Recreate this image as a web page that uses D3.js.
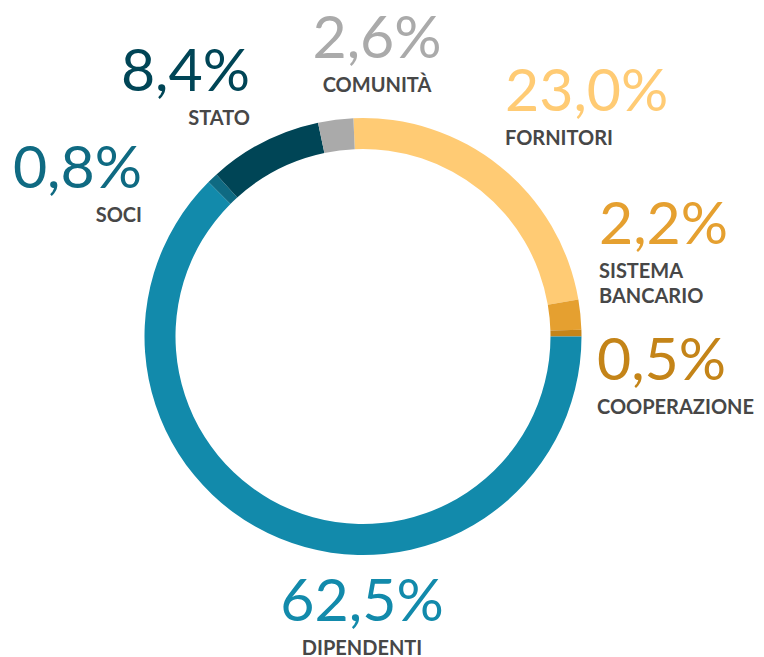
<!DOCTYPE html>
<html>
<head>
<meta charset="utf-8">
<script src="https://cdn.jsdelivr.net/npm/d3@7"></script>
<style>
  html, body { margin: 0; padding: 0; background: #fff; }
  svg { display: block; }
  .pct { font-family: "Lato", "Open Sans", sans-serif; font-weight: 400; }
  .lbl { font-family: "Lato", "Open Sans", sans-serif; font-weight: 700; fill: #474747; }
</style>
</head>
<body>
<svg id="chart"></svg>
<script>
    // values in clockwise order, starting from FORNITORI
    var categories = ["FORNITORI", "SISTEMA BANCARIO", "COOPERAZIONE", "DIPENDENTI", "SOCI", "STATO", "COMUNITÀ"];
    var values = [23.0, 2.2, 0.5, 62.5, 0.8, 8.4, 2.6];
    var valueLabels = ["23,0%", "2,2%", "0,5%", "62,5%", "0,8%", "8,4%", "2,6%"];
    var colors = ["#ffcb74", "#e5a030", "#c48418", "#128aab", "#0f6a82", "#004556", "#aaaaaa"];

    // label placement (anchor x, percent baseline y, alignment)
    var labelLayout = [
        {x: 505, y: 111, anchor: "start"},
        {x: 599, y: 244, anchor: "start"},
        {x: 597, y: 380, anchor: "start"},
        {x: 362, y: 621, anchor: "middle"},
        {x: 142, y: 188, anchor: "end"},
        {x: 250, y: 91, anchor: "end"},
        {x: 377, y: 58, anchor: "middle"}
    ];

    var width = 764, height = 657;
    var cx = 363, cy = 336.5;
    var outerR = 218.5, innerR = 187.5;

    var svg = d3.select('#chart').attr('width', width).attr('height', height);

    // DIPENDENTI begins at 3 o'clock
    var before = d3.sum(values.slice(0, 3)) / d3.sum(values);
    var start = Math.PI / 2 - before * 2 * Math.PI;

    var pie = d3.pie().sort(null).value(function(d) { return d; })
        .startAngle(start).endAngle(start + 2 * Math.PI);
    var arc = d3.arc().innerRadius(innerR).outerRadius(outerR);

    var g = svg.append('g').attr('transform', 'translate(' + cx + ',' + cy + ')');
    g.selectAll('path')
        .data(pie(values))
        .enter().append('path')
        .attr('d', arc)
        .attr('fill', function(d, i) { return colors[i]; });

    var labels = svg.selectAll('g.label')
        .data(categories)
        .enter().append('g')
        .attr('class', 'label');

    labels.append('text')
        .attr('class', 'pct')
        .attr('x', function(d, i) { return labelLayout[i].x; })
        .attr('y', function(d, i) { return labelLayout[i].y; })
        .attr('text-anchor', function(d, i) { return labelLayout[i].anchor; })
        .attr('font-size', 59)
        .attr('fill', function(d, i) { return colors[i]; })
        .text(function(d, i) { return valueLabels[i]; });

    labels.each(function(d, i) {
        var lines = d.split(' ');
        var t = d3.select(this).append('text')
            .attr('class', 'lbl')
            .attr('text-anchor', labelLayout[i].anchor)
            .attr('font-size', 20);
        lines.forEach(function(line, k) {
            t.append('tspan')
                .attr('x', labelLayout[i].x)
                .attr('y', labelLayout[i].y + 34 + k * 25)
                .text(line);
        });
    });
</script>
</body>
</html>
